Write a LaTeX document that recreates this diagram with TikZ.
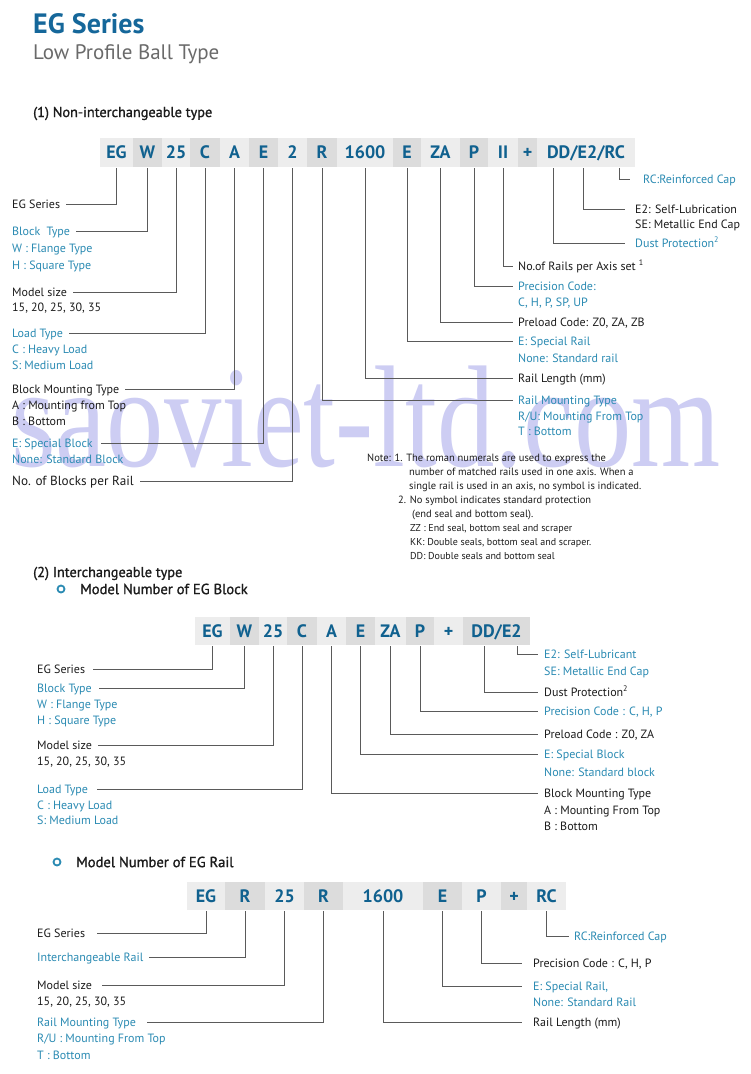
\documentclass[tikz,border=0pt]{standalone}
\usepackage{fontspec}
\setmainfont{PT Sans}
\newfontfamily\medfont[FakeBold=1.2]{PT Sans}
\newfontfamily\wmfont{Liberation Serif}
\usepackage{xcolor}
\usepackage{tikz}
\usetikzlibrary{positioning, calc}

\definecolor{codeblue}{HTML}{10618F}
\definecolor{titleblue}{HTML}{15679A}
\definecolor{lblue}{HTML}{2B8BB3}
\definecolor{ink}{HTML}{1C1C1C}
\definecolor{subgray}{HTML}{6A6A6A}
\definecolor{boxL}{HTML}{EDEDED}
\definecolor{boxD}{HTML}{DCDCDC}
\definecolor{lineC}{HTML}{5A5A5A}
\definecolor{wmark}{HTML}{CDCDF3}

\begin{document}
\begin{tikzpicture}[
    x=1pt, y=-1pt,
    cbox/.style={
        rectangle,
        fill=boxL,
        minimum height=29pt,
        inner sep=0pt,
        text=codeblue,
        text height=12.6pt,
        text depth=0pt,
        font=\bfseries\fontsize{18}{20}\selectfont
    },
    cboxd/.style={cbox, fill=boxD},
    lbl/.style={anchor=west, inner sep=0pt, text height=8.6pt, text depth=0pt,
        font=\fontsize{12}{14}\selectfont, text=ink},
    lblb/.style={lbl, text=lblue},
    note/.style={lbl, text height=7.4pt, font=\fontsize{10.5}{12}\selectfont},
    head/.style={anchor=west, inner sep=0pt, text depth=0pt, text=ink},
    ring/.style={circle, draw=lblue, line width=1.8pt, minimum size=7pt, inner sep=0pt},
    lead/.style={draw=lineC, line width=1pt, shorten <=1pt},
    wm/.style={anchor=base, inner sep=0pt, text=wmark, font=\wmfont\fontsize{145}{150}\selectfont}
]
\fill[white] (0,0) rectangle (750,1074);
\useasboundingbox (0,0) rectangle (750,1074);

\def\ya{152.5}
\def\yb{631}
\def\yc{896}

% Watermark
\node[wm] (wmk) at (366,466) {\scalebox{0.79}[1]{saoviet-ltd.com}};

% Headings
\node[head, text=titleblue, text height=19.6pt, font=\bfseries\fontsize{28}{30}\selectfont] (hTitle) at (33,23.5) {EG Series};
\node[head, text=subgray, text height=14.7pt, font=\fontsize{21}{24}\selectfont] (hSub) at (33,52) {Low Profile Ball Type};
\node[head, text height=10pt, font=\medfont\fontsize{14.3}{16}\selectfont] (h1) at (33,112) {(1) Non-interchangeable type};

% (1) Code boxes
\node[cbox, minimum width=33pt] (aEG) at (116.5,\ya) {EG};
\node[cboxd, minimum width=29pt] (aW) at (147.5,\ya) {W};
\node[cbox, minimum width=28pt] (a25) at (176,\ya) {25};
\node[cboxd, minimum width=30pt] (aC) at (205,\ya) {C};
\node[cbox, minimum width=29pt] (aA) at (234.5,\ya) {A};
\node[cboxd, minimum width=29pt] (aE) at (263.5,\ya) {E};
\node[cbox, minimum width=29pt] (a2) at (292.5,\ya) {2};
\node[cboxd, minimum width=30pt] (aR) at (322,\ya) {R};
\node[cbox, minimum width=56pt] (aLen) at (365,\ya) {1600};
\node[cboxd, minimum width=28pt] (aSp) at (407,\ya) {E};
\node[cbox, minimum width=39pt] (aZA) at (440.5,\ya) {ZA};
\node[cboxd, minimum width=28pt] (aP) at (474,\ya) {P};
\node[cbox, minimum width=30pt] (aII) at (503,\ya) {II};
\node[cboxd, minimum width=19pt] (aPl) at (527.5,\ya) {+};
\node[cbox, minimum width=98pt] (aDD) at (586,\ya) {DD/E2/RC};
\coordinate (tDD) at ($(aDD.south west)+(17,0)$);
\coordinate (tE2) at ($(aDD.south west)+(47,0)$);
\coordinate (tRC) at ($(aDD.south west)+(83,0)$);

% (1) Left labels
\node[lbl] (l1Ser) at (12,204) {EG Series};
\node[lblb] (l1Blk) at (12,231) {Block\ \ Type};
\node[lblb] (l1Blk2) at (12,248) {W : Flange Type};
\node[lblb] (l1Blk3) at (12,265) {H : Square Type};
\node[lbl] (l1Siz) at (12,292) {Model size};
\node[lbl] (l1Siz2) at (12,307) {15, 20, 25, 30, 35};
\node[lblb] (l1Load) at (12,333) {Load Type};
\node[lblb] (l1Load2) at (12,349) {C : Heavy Load};
\node[lblb] (l1Load3) at (12,365) {S: Medium Load};
\node[lbl] (l1Mnt) at (12,389) {Block Mounting Type};
\node[lbl] (l1Mnt2) at (12,405) {A : Mounting from Top};
\node[lbl] (l1Mnt3) at (12,421) {B : Bottom};
\node[lblb] (l1Sp) at (12,443) {E: Special Block};
\node[lblb] (l1Sp2) at (12,459) {None: Standard Block};
\node[lbl, text height=9.3pt, font=\fontsize{13.2}{15}\selectfont] (l1No) at (12,481) {No. of Blocks per Rail};

\draw[lead, shorten >=6pt] (aEG.south) |- (l1Ser.east);
\draw[lead, shorten >=6pt] (aW.south) |- (l1Blk.east);
\draw[lead, shorten >=6pt] (a25.south) |- (l1Siz.east);
\draw[lead, shorten >=6pt] (aC.south) |- (l1Load.east);
\draw[lead, shorten >=6pt] (aA.south) |- (l1Mnt.east);
\draw[lead, shorten >=8pt] (aE.south) |- (l1Sp.east);
\draw[lead, shorten >=6pt] (a2.south) |- (l1No.east);

% (1) Right labels
\node[lblb] (r1RC) at (643,179) {RC:Reinforced Cap};
\node[lbl] (r1E2) at (635,209) {E2: Self-Lubrication};
\node[lbl] (r1E2b) at (635,224) {SE: Metallic End Cap};
\node[lblb] (r1Dust) at (635,243) {Dust Protection\textsuperscript{2}};
\node[lbl] (r1Rail) at (518,266) {No.of Rails per Axis set \textsuperscript{1}};
\node[lblb] (r1Prec) at (518,286) {Precision Code:};
\node[lblb] (r1Prec2) at (518,302) {C, H, P, SP, UP};
\node[lbl] (r1Pre) at (518,322) {Preload Code: Z0, ZA, ZB};
\node[lblb] (r1Sp) at (518,341) {E: Special Rail};
\node[lblb] (r1Sp2) at (518,358) {None: Standard rail};
\node[lbl] (r1Len) at (518,378) {Rail Length (mm)};
\node[lblb] (r1Mnt) at (518,400) {Rail Mounting Type};
\node[lblb] (r1Mnt2) at (518,416) {R/U: Mounting From Top};
\node[lblb] (r1Mnt3) at (518,431) {T : Bottom};

\draw[lead, shorten >=13pt] (tRC) |- (r1RC.west);
\draw[lead, shorten >=10pt] (tE2) |- (r1E2.west);
\draw[lead, shorten >=10pt] (tDD) |- (r1Dust.west);
\draw[lead, shorten >=5pt] (aII.south) |- (r1Rail.west);
\draw[lead, shorten >=5pt] (aP.south) |- (r1Prec.west);
\draw[lead, shorten >=5pt] (aZA.south) |- (r1Pre.west);
\draw[lead, shorten >=5pt] (aSp.south) |- (r1Sp.west);
\draw[lead, shorten >=5pt] (aLen.south) |- (r1Len.west);
\draw[lead, shorten >=5pt] (aR.south) |- (r1Mnt.west);

% Notes
\node[note] (n1) at (367,458) {Note: 1. The roman numerals are used to express the};
\node[note] (n2) at (409,472) {number of matched rails used in one axis. When a};
\node[note] (n3) at (409,486) {single rail is used in an axis, no symbol is indicated.};
\node[note] (n4) at (398,500) {2. No symbol indicates standard protection};
\node[note] (n5) at (412,514) {(end seal and bottom seal).};
\node[note, font=\fontsize{10}{12}\selectfont] (n6) at (410,528) {ZZ : End seal, bottom seal and scraper};
\node[note, font=\fontsize{10}{12}\selectfont] (n7) at (410,542) {KK: Double seals, bottom seal and scraper.};
\node[note, font=\fontsize{10}{12}\selectfont] (n8) at (410,556) {DD: Double seals and bottom seal};

% (2) Block
\node[head, text height=10pt, font=\medfont\fontsize{14.3}{16}\selectfont] (h2) at (33,572) {(2) Interchangeable type};
\node[ring] (o1) at (61,589) {};
\node[head, text height=10.2pt, font=\medfont\fontsize{14.6}{16}\selectfont] (h2a) at (80,589) {Model Number of EG Block};

\node[cbox, minimum width=35pt, minimum height=28pt] (bEG) at (212.5,\yb) {EG};
\node[cboxd, minimum width=29pt, minimum height=28pt] (bW) at (244.5,\yb) {W};
\node[cbox, minimum width=28pt, minimum height=28pt] (b25) at (273,\yb) {25};
\node[cboxd, minimum width=30pt, minimum height=28pt] (bC) at (302,\yb) {C};
\node[cbox, minimum width=29pt, minimum height=28pt] (bA) at (331.5,\yb) {A};
\node[cboxd, minimum width=29pt, minimum height=28pt] (bE) at (360.5,\yb) {E};
\node[cbox, minimum width=31pt, minimum height=28pt] (bZA) at (390.5,\yb) {ZA};
\node[cboxd, minimum width=28pt, minimum height=28pt] (bP) at (420,\yb) {P};
\node[cbox, minimum width=29pt, minimum height=28pt] (bPl) at (448.5,\yb) {+};
\node[cboxd, minimum width=67pt, minimum height=28pt] (bDD) at (496.5,\yb) {DD/E2};
\coordinate (tDD2) at ($(bDD.south west)+(22,0)$);
\coordinate (tE22) at ($(bDD.south west)+(55,0)$);

\node[lbl] (l2Ser) at (37,669) {EG Series};
\node[lblb] (l2Blk) at (37,688) {Block Type};
\node[lblb] (l2Blk2) at (37,704) {W : Flange Type};
\node[lblb] (l2Blk3) at (37,720) {H : Square Type};
\node[lbl] (l2Siz) at (37,745) {Model size};
\node[lbl] (l2Siz2) at (37,761) {15, 20, 25, 30, 35};
\node[lblb] (l2Load) at (37,789) {Load Type};
\node[lblb] (l2Load2) at (37,805) {C : Heavy Load};
\node[lblb] (l2Load3) at (37,820) {S: Medium Load};

\draw[lead, shorten >=8pt] (bEG.south) |- (l2Ser.east);
\draw[lead, shorten >=7pt] (bW.south) |- (l2Blk.east);
\draw[lead, shorten >=6pt] (b25.south) |- (l2Siz.east);
\draw[lead, shorten >=9pt] (bC.south) |- (l2Load.east);

\node[lblb] (r2E2) at (544,654) {E2: Self-Lubricant};
\node[lblb] (r2E2b) at (544,671) {SE: Metallic End Cap};
\node[lbl] (r2Dust) at (544,692) {Dust Protection\textsuperscript{2}};
\node[lblb] (r2Prec) at (544,711) {Precision Code : C, H, P};
\node[lbl] (r2Pre) at (544,734) {Preload Code : Z0, ZA};
\node[lblb] (r2Sp) at (544,754) {E: Special Block};
\node[lblb] (r2Sp2) at (544,772) {None: Standard block};
\node[lbl] (r2Mnt) at (544,793) {Block Mounting Type};
\node[lbl] (r2Mnt2) at (544,810) {A : Mounting From Top};
\node[lbl] (r2Mnt3) at (544,826) {B : Bottom};

\draw[lead, shorten >=6pt] (tE22) |- (r2E2.west);
\draw[lead, shorten >=6pt] (tDD2) |- (r2Dust.west);
\draw[lead, shorten >=6pt] (bP.south) |- (r2Prec.west);
\draw[lead, shorten >=6pt] (bZA.south) |- (r2Pre.west);
\draw[lead, shorten >=6pt] (bE.south) |- (r2Sp.west);
\draw[lead, shorten >=6pt] (bA.south) |- (r2Mnt.west);

% (2) Rail
\node[ring] (o2) at (57,862) {};
\node[head, text height=10.2pt, font=\medfont\fontsize{14.6}{16}\selectfont] (h3) at (76,862) {Model Number of EG Rail};

\node[cbox, minimum width=38pt, minimum height=28pt] (cEG) at (206,\yc) {EG};
\node[cboxd, minimum width=40pt, minimum height=28pt] (cR) at (245,\yc) {R};
\node[cbox, minimum width=39pt, minimum height=28pt] (c25) at (284.5,\yc) {25};
\node[cboxd, minimum width=39pt, minimum height=28pt] (cR2) at (323.5,\yc) {R};
\node[cbox, minimum width=80pt, minimum height=28pt] (cLen) at (383,\yc) {1600};
\node[cboxd, minimum width=39pt, minimum height=28pt] (cE) at (442.5,\yc) {E};
\node[cbox, minimum width=39pt, minimum height=28pt] (cP) at (481.5,\yc) {P};
\node[cboxd, minimum width=26pt, minimum height=28pt] (cPl) at (514,\yc) {+};
\node[cbox, minimum width=39pt, minimum height=28pt] (cRC) at (546.5,\yc) {RC};

\node[lbl] (l3Ser) at (37,933) {EG Series};
\node[lblb] (l3Rail) at (37,957) {Interchangeable Rail};
\node[lbl] (l3Siz) at (37,985) {Model size};
\node[lbl] (l3Siz2) at (37,1001) {15, 20, 25, 30, 35};
\node[lblb] (l3Mnt) at (37,1022) {Rail Mounting Type};
\node[lblb] (l3Mnt2) at (37,1038) {R/U : Mounting From Top};
\node[lblb] (l3Mnt3) at (37,1055) {T : Bottom};

\draw[lead, shorten >=12pt] (cEG.south) |- (l3Ser.east);
\draw[lead, shorten >=5pt] (cR.south) |- (l3Rail.east);
\draw[lead, shorten >=10pt] (c25.south) |- (l3Siz.east);
\draw[lead, shorten >=11pt] (cR2.south) |- (l3Mnt.east);

\node[lblb] (r3RC) at (574,936) {RC:Reinforced Cap};
\node[lbl] (r3Prec) at (533,963) {Precision Code : C, H, P};
\node[lblb] (r3Sp) at (533,986) {E: Special Rail,};
\node[lblb] (r3Sp2) at (533,1002) {None: Standard Rail};
\node[lbl] (r3Len) at (533,1022) {Rail Length (mm)};

\draw[lead, shorten >=5pt] (cRC.south) |- (r3RC.west);
\draw[lead, shorten >=11pt] (cP.south) |- (r3Prec.west);
\draw[lead, shorten >=11pt] (cE.south) |- (r3Sp.west);
\draw[lead, shorten >=11pt] (cLen.south) |- (r3Len.west);

\end{tikzpicture}
\end{document}
